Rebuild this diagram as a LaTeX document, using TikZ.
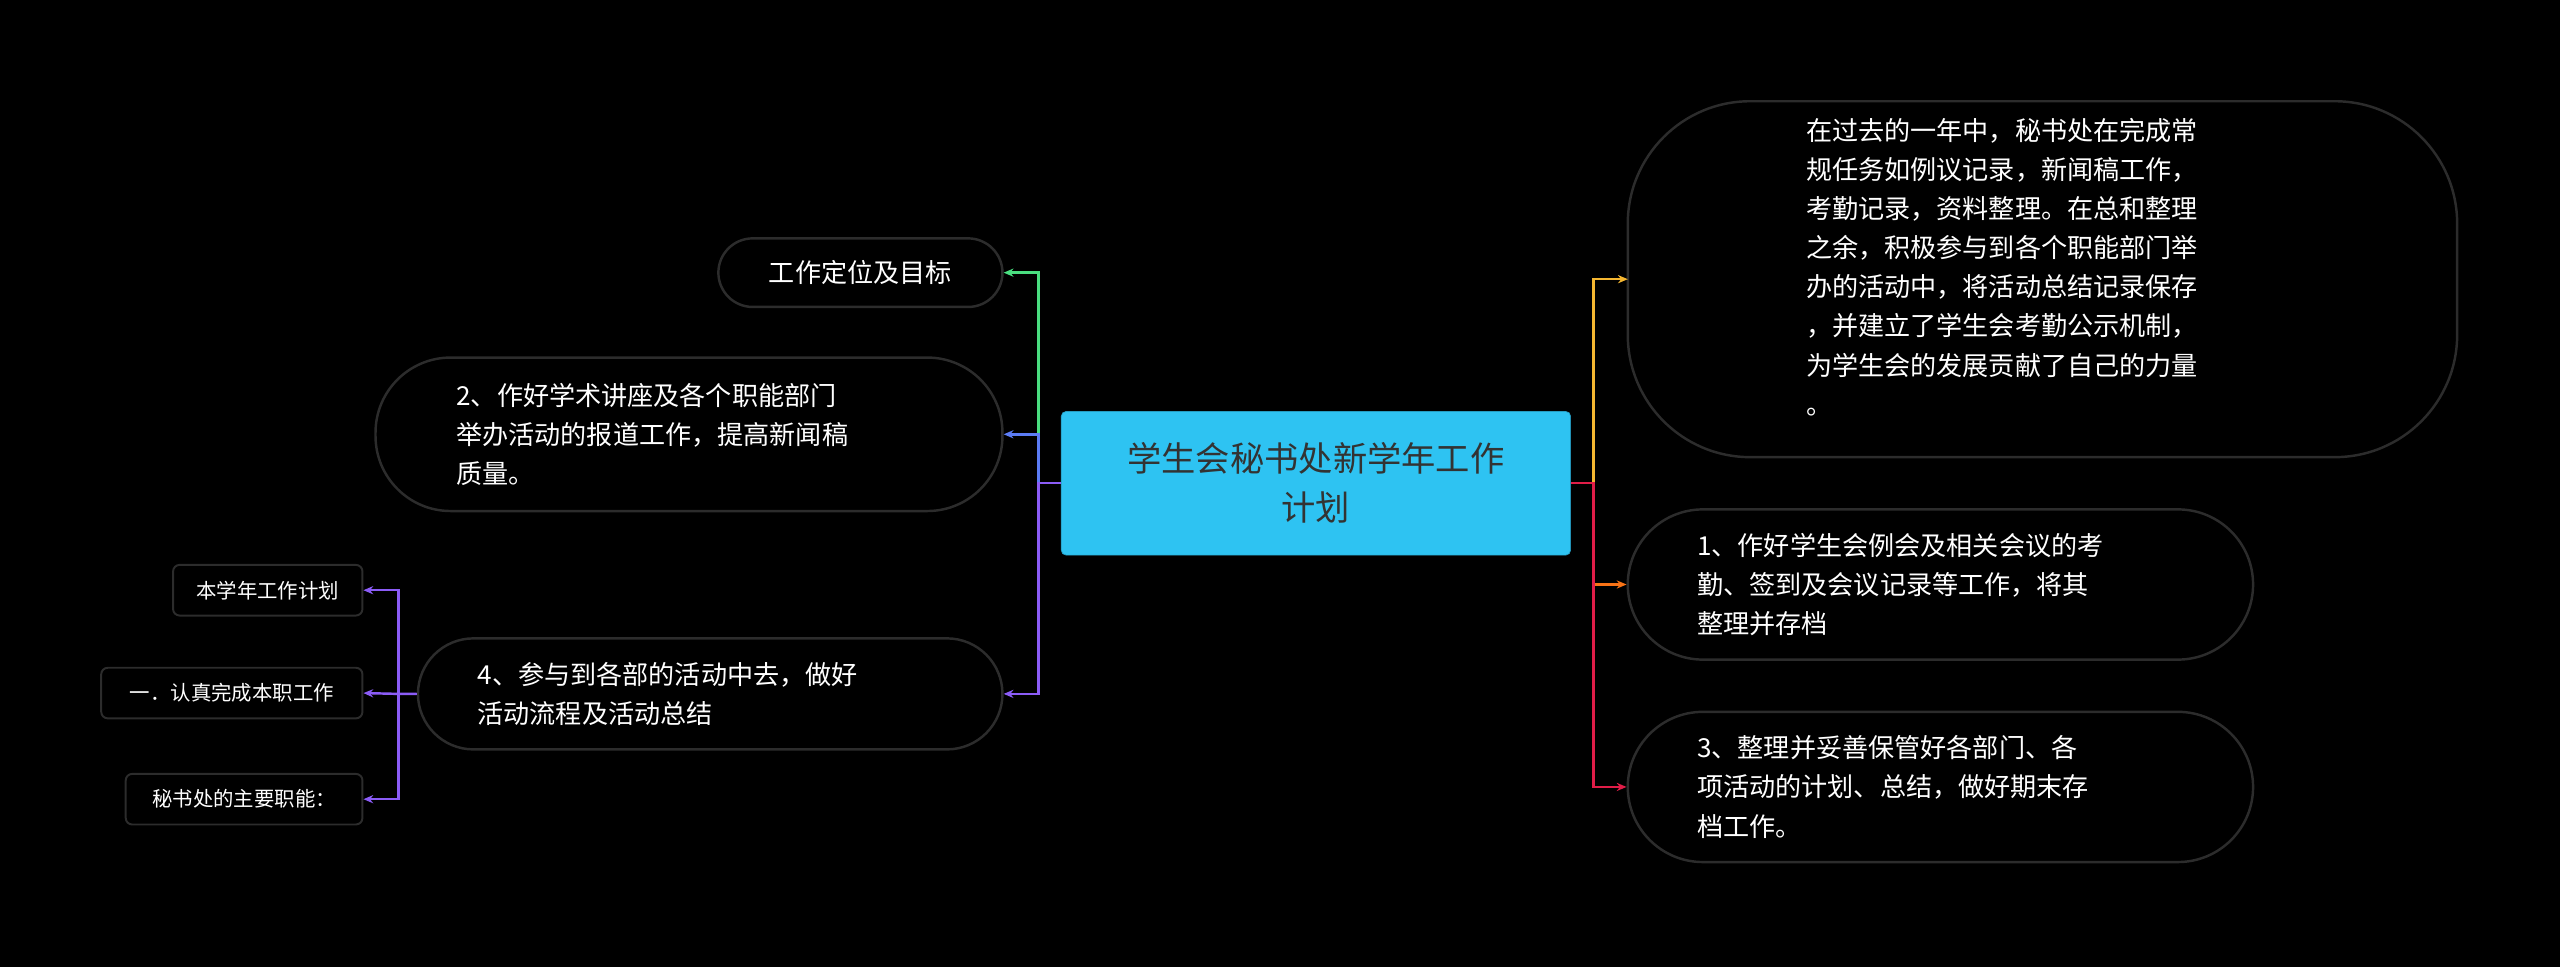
\documentclass[tikz,border=0pt]{standalone}
\usepackage{fontspec}
\setmainfont{Noto Sans CJK SC}
\usetikzlibrary{arrows.meta}
\definecolor{bd}{HTML}{2C2C2C}
\definecolor{cy}{HTML}{2EC3F2}
\definecolor{cg}{HTML}{4ADE80}
\definecolor{cb}{HTML}{5B7CF5}
\definecolor{cp}{HTML}{8B5CF6}
\definecolor{cyel}{HTML}{F5B731}
\definecolor{cor}{HTML}{F97316}
\definecolor{cr}{HTML}{E11D48}
\begin{document}
\begin{tikzpicture}[x=1pt,y=-1pt,
  pill/.style={draw=bd,line width=1.5pt,text=white,font=\fontsize{16}{24}\selectfont,align=left,inner sep=0pt},
  small/.style={draw=bd,line width=1.2pt,rounded corners=4pt,text=white,font=\fontsize{12.5}{15}\selectfont,inner sep=0pt},
  conn/.style={line width=1.5pt,-{Stealth[length=6pt,width=5pt]}}]
\fill[black] (0,0) rectangle (1568,592);
\useasboundingbox (0,0) rectangle (1568,592);
% center
\node[fill=cy,draw=cy!80!black,rounded corners=3pt,minimum width=312pt,minimum height=88pt,align=center,font=\fontsize{21}{30}\selectfont,text=black!80] (c) at (806,296) {学生会秘书处新学年工作\\计划};
% right
\draw[bd,line width=1.5pt,rounded corners=75pt] (997,62) rectangle (1505,280);
\node[anchor=north west,text=white,font=\fontsize{16}{24}\selectfont,align=left,inner sep=0pt] (r1) at (1106,72) {在过去的一年中，秘书处在完成常\\规任务如例议记录，新闻稿工作，\\考勤记录，资料整理。在总和整理\\之余，积极参与到各个职能部门举\\办的活动中，将活动总结记录保存\\，并建立了学生会考勤公示机制，\\为学生会的发展贡献了自己的力量\\。};
\coordinate (r1a) at (997,171);
\node[pill,rounded corners=46pt,minimum width=383pt,minimum height=92pt] (r2) at (1188.5,358) {};
\node[anchor=west,text=white,font=\fontsize{16}{24}\selectfont,align=left] at (1036,358) {1、作好学生会例会及相关会议的考\\勤、签到及会议记录等工作，将其\\整理并存档};
\node[pill,rounded corners=46pt,minimum width=383pt,minimum height=92pt] (r3) at (1188.5,482) {};
\node[anchor=west,text=white,font=\fontsize{16}{24}\selectfont,align=left] at (1036,482) {3、整理并妥善保管好各部门、各\\项活动的计划、总结，做好期末存\\档工作。};
% left
\node[pill,rounded corners=21pt,minimum width=174pt,minimum height=42pt,align=center] (l1) at (527,167) {工作定位及目标};
\node[pill,rounded corners=46pt,minimum width=384pt,minimum height=94pt] (l2) at (422,266) {};
\node[anchor=west,text=white,font=\fontsize{16}{24}\selectfont,align=left] at (276,266) {2、作好学术讲座及各个职能部门\\举办活动的报道工作，提高新闻稿\\质量。};
\node[pill,rounded corners=34pt,minimum width=358pt,minimum height=68pt] (l3) at (435,425) {};
\node[anchor=west,text=white,font=\fontsize{16}{24}\selectfont,align=left] at (289,425) {4、参与到各部的活动中去，做好\\活动流程及活动总结};
% sub
\node[small,minimum width=116pt,minimum height=31pt] (s1) at (164,361.5) {本学年工作计划};
\node[small,minimum width=160pt,minimum height=31pt] (s2) at (142,424.5) {一．认真完成本职工作};
\node[small,minimum width=145pt,minimum height=31pt] (s3) at (149.5,489.5) {秘书处的主要职能：};
% connectors
\draw[conn,cg] (c.west) -- (636,296) -- (636,167) -- (l1.east);
\draw[conn,cb] (c.west) -- (636,296) -- (636,266) -- (l2.east);
\draw[conn,cp] (c.west) -- (636,296) -- (636,425) -- (l3.east);
\draw[conn,cyel] (c.east) -- (976,296) -- (976,171) -- (r1a);
\draw[conn,cor] (c.east) -- (976,296) -- (976,358) -- (r2.west);
\draw[conn,cr] (c.east) -- (976,296) -- (976,482) -- (r3.west);
\draw[conn,cp] (l3.west) -- (244,425) -- (244,361.5) -- (s1.east);
\draw[conn,cp] (l3.west) -- (244,425) -- (s2.east);
\draw[conn,cp] (l3.west) -- (244,425) -- (244,489.5) -- (s3.east);
\end{tikzpicture}
\end{document}
